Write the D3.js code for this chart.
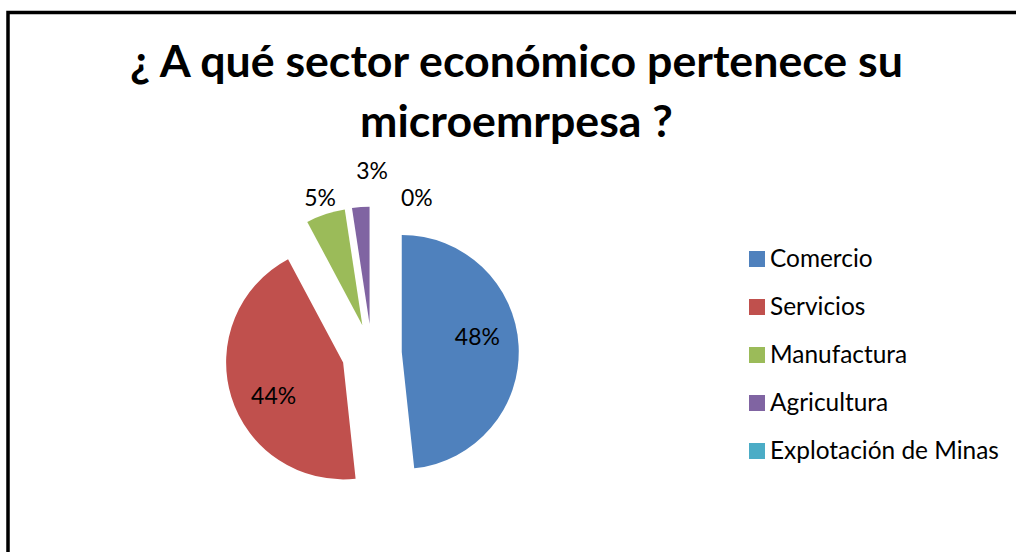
<!DOCTYPE html>
<html><head><meta charset="utf-8">
<script src="https://cdn.jsdelivr.net/npm/d3@7"></script>
<style>html,body{margin:0;padding:0;background:#fff;overflow:hidden;} svg{display:block;}</style>
</head><body>
<script>
// ---- data ----
const titleLines = ["¿ A qué sector económico pertenece su", "microemrpesa ?"];
const categories = ["Comercio", "Servicios", "Manufactura", "Agricultura", "Explotación de Minas"];
const values = [48.3, 43.9, 5.4, 2.4, 0];
const percentLabels = ["48%", "44%", "5%", "3%", "0%"];
const colors = ["#4F81BD", "#C0504D", "#9BBB59", "#8064A2", "#4BACC6"];

// ---- layout ----
const W = 1016, H = 552;
const FONT = "Lato, 'Open Sans', sans-serif";
const svg = d3.select("body").append("svg").attr("width", W).attr("height", H);
svg.append("rect").attr("width", W).attr("height", H).attr("fill", "#fff");
svg.append("path").attr("d", `M8,${H + 10}V12.5H${W + 10}`)
  .attr("fill", "none").attr("stroke", "#000").attr("stroke-width", 3.5);

function fitSize(text, weight, targetWidth) {
  const t = svg.append("text").attr("font-family", FONT).attr("font-weight", weight)
    .attr("font-size", 100).text(text);
  const w = t.node().getComputedTextLength();
  t.remove();
  return 100 * targetWidth / w;
}

// title
const titleSize = fitSize(titleLines[0], "bold", 773);
svg.append("g").selectAll("text").data(titleLines).join("text")
  .attr("x", 516.5).attr("y", (d, i) => 77 + i * 60)
  .attr("text-anchor", "middle").attr("font-family", FONT).attr("font-weight", "bold")
  .attr("font-size", titleSize).attr("fill", "#000").text(d => d);

// pie
const cx = 371.8, cy = 353.6, R = 117, explode = 30;
const arcs = d3.pie().sort(null).value(d => d)(values);
const arc = d3.arc().innerRadius(0).outerRadius(R);
const g = svg.append("g").attr("transform", `translate(${cx},${cy})`);
const mid = d => (d.startAngle + d.endAngle) / 2;
const polar = (ang, dist) => [Math.sin(ang) * dist, -Math.cos(ang) * dist];

g.selectAll("path.slice").data(arcs).join("path").attr("class", "slice")
  .attr("d", arc).attr("fill", (d, i) => colors[i])
  .attr("transform", d => { const [x, y] = polar(mid(d), explode); return `translate(${x},${y})`; });

// data labels
const labelSize = fitSize("48%", "normal", 45);
const deg = Math.PI / 180;
const nudges = { 3: { da: 5.3, dist: R + 36 }, 4: { da: 19.6, dist: R + 17 } };
g.selectAll("text.lbl").data(arcs).join("text").attr("class", "lbl")
  .each(function (d, i) {
    const [vx, vy] = polar(mid(d), explode);
    let ang, dist;
    if (d.endAngle - d.startAngle > 0.5) { ang = mid(d) - 8.7 * deg; dist = R * 0.66; }
    else { const n = nudges[i] || { da: 0, dist: R + 17 }; ang = mid(d) + n.da * deg; dist = n.dist; }
    const [lx, ly] = polar(ang, dist);
    d3.select(this).attr("x", vx + lx).attr("y", vy + ly);
  })
  .attr("dy", "0.36em").attr("text-anchor", "middle")
  .attr("font-family", FONT).attr("font-size", labelSize).attr("fill", "#000")
  .text((d, i) => percentLabels[i]);

// legend
const legendSize = fitSize("Explotación de Minas", "normal", 229);
const ly = d3.scalePoint().domain(categories).range([251, 443]);
const lg = svg.append("g");
const items = lg.selectAll("g").data(categories).join("g")
  .attr("transform", d => `translate(749,${ly(d)})`);
items.append("rect").attr("width", 16).attr("height", 16).attr("fill", (d, i) => colors[i]);
items.append("text").attr("x", 21).attr("y", 16)
  .attr("font-family", FONT).attr("font-size", legendSize).attr("fill", "#000").text(d => d);
</script>
</body></html>
